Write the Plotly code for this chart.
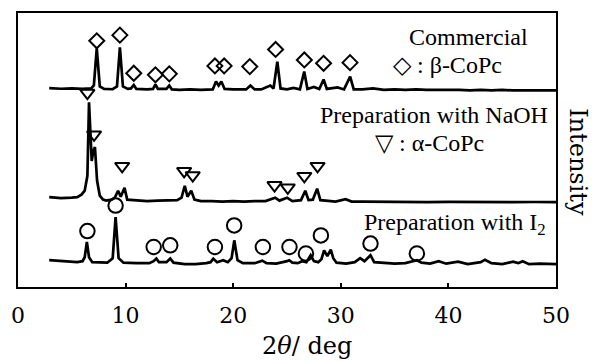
import plotly.graph_objects as go

# ---------------- data ----------------
# Commercial (beta-CoPc) pattern: 2theta (deg) and intensity above its baseline
comm_2theta = [2.9, 4.0, 5.0, 6.0, 6.8, 7.05, 7.32, 7.6, 8.0, 8.8, 9.2, 9.47, 9.75, 10.2, 10.5,
               10.76, 11.0, 12.0, 12.55, 12.77, 13.0, 13.8, 14.06, 14.3, 15.0, 16.0, 17.0, 18.1,
               18.4, 18.65, 18.9, 19.2, 20.0, 21.2, 21.6, 22.0, 22.6, 23.0, 23.45, 23.75, 24.1,
               24.4, 25.0, 25.6, 26.2, 26.6, 26.9, 27.5, 28.0, 28.4, 28.7, 29.7, 30.3, 30.87,
               31.2, 32.0, 33.0, 34.0, 35.0, 36.0, 37.0, 38.0, 39.0, 40.0, 41.0, 42.0, 43.0,
               44.0, 45.0, 46.0, 47.0, 48.0, 49.0, 50.0]
comm_int = [1.3, 0.7, 1.0, 0.5, 1.0, 4, 41.3, 3, 0.5, 0.2, 3, 42.3, 3, 0.5, 1,
            4.5, 0.5, 0, 0.5, 5, 0.5, 0.5, 4, 0, -0.5, 0, -0.5, 0,
            8, 4, 8, 0.5, 0, 0, 4, 0, 0, 2, 4, 1, 28,
            1, 0, 1.5, 0, 18, 0.5, 2.5, 0.5, 10, 0.5, 2, 0, 13,
            0, 0, 1, -0.5, 0, -0.5, 0, -0.5, -0.3, -0.8, -0.5, -1, -0.5,
            -1, -0.5, -1, -0.7, -1, -0.8, -1]

# Preparation with NaOH (alpha-CoPc)
naoh_2theta = [2.9, 4.0, 5.0, 5.5, 5.9, 6.2, 6.45, 6.6, 6.85, 7.0, 7.15, 7.35, 7.6, 7.9, 8.2,
               8.7, 9.0, 9.3, 9.55, 9.9, 10.15, 11.0, 12.0, 13.0, 14.0, 14.8, 15.2, 15.5,
               15.75, 16.1, 16.4, 17.0, 18.0, 19.0, 20.0, 21.0, 22.0, 23.0, 23.9, 24.3, 25.0,
               25.5, 26.3, 26.7, 27.0, 27.4, 27.8, 28.1, 28.6, 29.5, 30.45, 31.0, 32.0, 34.0,
               36.0, 38.0, 40.0, 42.0, 44.0, 46.0, 48.0, 50.0]
naoh_int = [3.5, 2.5, 3, 3.5, 6, 10, 25, 99, 40, 50, 54, 20, 5, 1, 0,
            1, 3, 10, 4, 13, 1, 0, -0.5, 0, 0, 0.5, 3, 15,
            4, 10, 1, -0.5, -0.5, -1, -0.5, -1, -0.5, -0.5, 3, 0, 3,
            -0.5, 0.5, 10, 0.5, 1, 12, 0.5, 0, -1, 1.5, -1, -1, -1.3,
            -1, -1.5, -1.2, -1.5, -1.3, -1.5, -1.4, -1.5]

# Preparation with I2
i2_2theta = [2.9, 3.5, 4.5, 5.5, 6.0, 6.2, 6.4, 6.6, 6.9, 7.5, 8.3, 8.8, 9.07, 9.35, 9.8,
             11.0, 12.2, 12.6, 12.86, 13.1, 13.8, 14.15, 14.45, 15.5, 16.5, 17.5, 17.9,
             18.15, 18.5, 19.07, 19.5, 19.85, 20.1, 20.4, 20.9, 22.0, 22.7, 23.1, 24.0, 25.0,
             25.2, 25.5, 26.0, 26.4, 26.8, 27.2, 27.5, 27.9, 28.2, 28.45, 28.75, 29.07, 29.3,
             29.6, 30.5, 31.3, 31.8, 32.2, 32.76, 33.1, 34.0, 35.0, 36.0, 37.07, 37.5, 38.3,
             39.1, 39.8, 40.9, 41.8, 43.0, 43.4, 44.0, 45.0, 46.0, 46.5, 46.9, 47.5, 48.5, 50.0]
i2_int = [3, 2.5, 1.5, 1, 2, 6, 21.3, 6, 1, 0.5, 0.5, 5, 46.3, 5, 0.5,
          0, 0, 2, 4.7, 1, 1, 4.7, 0.5, -1, -1, 0, 1,
          4.5, 1, 3, 1, 5, 23, 3, 0, 0, 2.5, 0, -0.5, 2,
          3, 0.5, 0, 2, 1, 8, 2, 1, 4, 13, 7, 13.7, 5,
          0.5, -0.5, 1, 5, 2, 8, 1, 0, -0.5, 0, 3, 0.5, -0.5,
          2, -0.5, 1.5, -1, 1, 3.5, 0, -1, 1.5, 0, 2, -1, -0.5, -1]

# vertical stacking offsets of the three patterns
offset_comm = 199
offset_naoh = 87
offset_i2 = 24

# phase markers (2theta, marker height)
beta_2theta = [7.32, 9.47, 10.76, 12.77, 14.06, 18.3, 19.16, 21.54, 23.94, 26.61, 28.4, 30.86]
beta_y = [248, 253.7, 215.3, 213.7, 214.7, 222.7, 222.7, 222, 239.3, 228.7, 225.3, 226]
alpha_2theta = [6.45, 7.07, 9.68, 15.44, 16.24, 23.84, 25.07, 26.61, 27.84]
alpha_y = [195.5, 153.5, 121.8, 116.8, 112.5, 102.5, 100.2, 111.8, 121.8]
i2_mark_2theta = [6.45, 9.07, 12.61, 14.15, 18.3, 20.09, 22.76, 25.23, 26.76, 28.15, 32.76, 37.07]
i2_mark_y = [56.3, 82, 40.3, 42, 40.3, 62, 40.3, 40.3, 33.7, 52, 43.7, 33.7]

x_ticks = [0, 10, 20, 30, 40, 50]

# ---------------- figure ----------------
fig = go.Figure()
for xs, ys, off in [(comm_2theta, comm_int, offset_comm),
                    (naoh_2theta, naoh_int, offset_naoh),
                    (i2_2theta, i2_int, offset_i2)]:
    fig.add_trace(go.Scatter(x=xs, y=[v + off for v in ys], mode="lines",
                             line=dict(color="black", width=2.7), hoverinfo="skip"))

fig.add_trace(go.Scatter(x=beta_2theta, y=beta_y, mode="markers",
                         marker=dict(symbol="diamond-open", size=11.5, color="black",
                                     line=dict(width=2, color="black"))))
fig.add_trace(go.Scatter(x=alpha_2theta, y=alpha_y, mode="markers",
                         marker=dict(symbol="triangle-down-open", size=12.5, color="black",
                                     line=dict(width=2, color="black"))))
fig.add_trace(go.Scatter(x=i2_mark_2theta, y=i2_mark_y, mode="markers",
                         marker=dict(symbol="circle-open", size=14.5, color="black",
                                     line=dict(width=2, color="black"))))

lab_font = dict(family="Liberation Serif", size=24, color="black")
annots = [
    dict(text="Commercial", x=0.838, y=0.913, xanchor="center"),
    dict(text="◇ : β-CoPc", x=0.7987, y=0.8105, xanchor="center"),
    dict(text="Preparation with NaOH", x=0.989, y=0.629, xanchor="right"),
    dict(text="▽ : α-CoPc", x=0.764, y=0.5264, xanchor="center"),
    dict(text="Preparation with I<sub>2</sub>", x=0.9858, y=0.2308, xanchor="right"),
]
for a in annots:
    fig.add_annotation(xref="paper", yref="paper", yanchor="middle", showarrow=False,
                       font=lab_font, **a)
fig.add_annotation(text="Intensity", xref="paper", yref="paper", x=1.0405, y=0.4565,
                   xanchor="center", yanchor="middle", textangle=90, showarrow=False,
                   font=dict(family="DejaVu Serif", size=24, color="black"))
# x-axis title (placed right of centre as in the original)
fig.add_annotation(text="2<i>θ</i>/ deg", xref="paper", yref="paper", x=0.5378, y=-0.214,
                   xanchor="center", yanchor="middle", showarrow=False,
                   font=dict(family="DejaVu Serif", size=24, color="black"))

fig.update_layout(
    width=594, height=361,
    margin=dict(l=13, r=38, t=11, b=74),
    paper_bgcolor="white", plot_bgcolor="white",
    showlegend=False,
    xaxis=dict(range=[0, 50], tickvals=x_ticks, ticktext=[str(t) for t in x_ticks],
               ticks="inside", ticklen=4, tickwidth=2, tickcolor="black",
               showline=True, linewidth=2, linecolor="black", mirror=True,
               showgrid=False, zeroline=False,
               tickfont=dict(family="DejaVu Serif", size=22, color="black"),
               ticklabelstandoff=8),
    yaxis=dict(range=[0, 276], showticklabels=False, ticks="",
               showline=True, linewidth=2, linecolor="black", mirror=True,
               showgrid=False, zeroline=False),
)

fig.write_html("out.html")
